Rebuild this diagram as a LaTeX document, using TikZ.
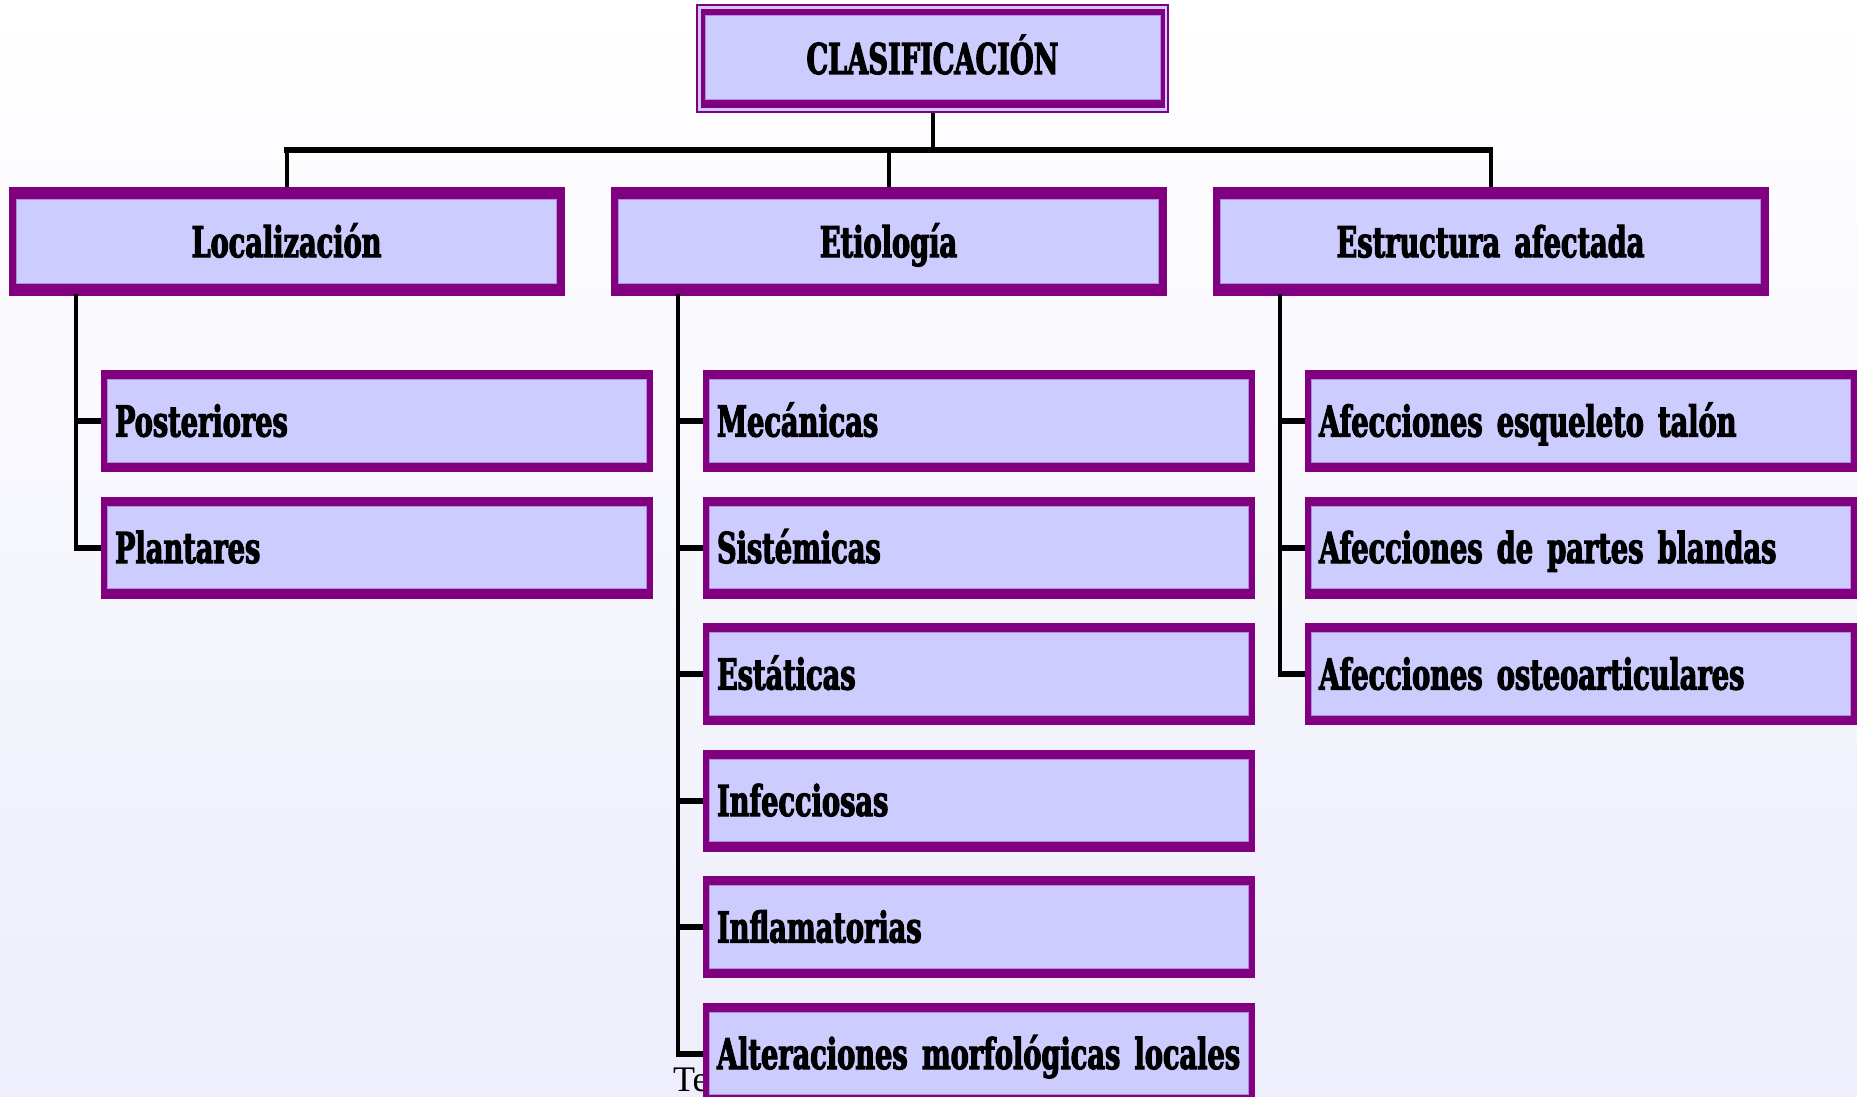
\documentclass[tikz,border=0pt]{standalone}
\usepackage{fontspec}
\setmainfont{DejaVu Serif}
\newfontfamily\boxfont{DejaVu Serif}[FakeStretch=0.64, FakeBold=2.5, WordSpace=1.5]
\newfontfamily\tefont{Liberation Serif}
\definecolor{bandpurple}{RGB}{128,0,128}
\definecolor{lav}{RGB}{204,204,255}
\definecolor{innerline}{RGB}{178,140,225}
\definecolor{bgbottom}{RGB}{238,238,252}
\tikzset{
  boxtext/.style={font=\boxfont\bfseries\fontsize{42.5pt}{44pt}\selectfont, text height=31pt, text depth=0pt, inner ysep=0pt},
  bandbox/.style n args={2}{boxtext, fill=bandpurple, draw=none,
    path picture={\fill[lav, draw=innerline, line width=1pt]
      ([xshift=#1,yshift=#2]path picture bounding box.south west) rectangle
      ([xshift=-#1,yshift=-#2]path picture bounding box.north east);}},
  lvlone/.style={bandbox={8pt}{12.5pt}, minimum width=556pt, minimum height=109pt, inner xsep=0pt},
  lvltwo/.style={bandbox={6.7pt}{9.6pt}, minimum height=102pt, text width=524pt, inner xsep=14pt, align=flush left},
  topbox/.style={boxtext, fill=bandpurple, draw=none, minimum width=473pt, minimum height=109pt,
    path picture={
      \fill[lav] ([xshift=2pt,yshift=2pt]path picture bounding box.south west) rectangle ([xshift=-2pt,yshift=-2pt]path picture bounding box.north east);
      \fill[bandpurple] ([xshift=4.5pt,yshift=5pt]path picture bounding box.south west) rectangle ([xshift=-4.5pt,yshift=-5.5pt]path picture bounding box.north east);
      \fill[lav, draw=innerline, line width=1pt] ([xshift=9pt,yshift=13pt]path picture bounding box.south west) rectangle ([xshift=-9pt,yshift=-12pt]path picture bounding box.north east);}},
  vl/.style={line width=4pt, black},
  hl/.style={line width=5.5pt, black},
  tick/.style={line width=6pt, black},
}
\begin{document}
\begin{tikzpicture}[x=1pt, y=-1pt]
\useasboundingbox (0,0) rectangle (1857,1097);
\clip (0,0) rectangle (1857,1097);
\shade[top color=white, bottom color=bgbottom] (0,0) rectangle (1857,1097);

\node[font=\tefont\fontsize{36pt}{38pt}\selectfont, anchor=base west, inner sep=0pt] (te) at (673,1091) {Te};

\node[topbox] (top) at (932.5,58.5) {CLASIFICACIÓN};

\node[lvlone] (loc) at (286.5,241.7) {Localización};
\node[lvlone] (etio) at (888.5,241.7) {Etiología};
\node[lvlone] (estr) at (1490.5,241.7) {Estructura afectada};

\node[lvltwo] (post) at (377,421) {Posteriores};
\node[lvltwo] (plan) at (377,547.5) {Plantares};

\node[lvltwo] (mec) at (979,421) {Mecánicas};
\node[lvltwo] (sis) at (979,547.5) {Sistémicas};
\node[lvltwo] (est) at (979,674) {Estáticas};
\node[lvltwo] (inf) at (979,800.5) {Infecciosas};
\node[lvltwo] (infl) at (979,927) {Inflamatorias};
\node[lvltwo] (alt) at (979,1053.5) {Alteraciones morfológicas locales};

\node[lvltwo] (esq) at (1581,421) {Afecciones esqueleto talón};
\node[lvltwo] (pb) at (1581,547.5) {Afecciones de partes blandas};
\node[lvltwo] (oa) at (1581,674) {Afecciones osteoarticulares};

% top bus
\coordinate (hb) at (932.5,150);
\draw[vl] (top.south) -- (hb);
\draw[hl, line cap=rect] (loc.north |- hb) -- (estr.north |- hb);
\draw[vl] (loc.north |- hb) -- (loc.north);
\draw[vl] (etio.north |- hb) -- (etio.north);
\draw[vl] (estr.north |- hb) -- (estr.north);

% branch buses
\coordinate (lb) at ([xshift=68pt]loc.south west);
\coordinate (mb) at ([xshift=68pt]etio.south west);
\coordinate (rb) at ([xshift=68pt]estr.south west);
\draw[vl, line cap=rect] (lb) -- (lb |- plan.west);
\draw[vl, line cap=rect] (mb) -- (mb |- alt.west);
\draw[vl, line cap=rect] (rb) -- (rb |- oa.west);
\foreach \n in {post,plan}{\draw[tick] ([xshift=-2pt]lb |- \n.west) -- (\n.west);}
\foreach \n in {mec,sis,est,inf,infl,alt}{\draw[tick] ([xshift=-2pt]mb |- \n.west) -- (\n.west);}
\foreach \n in {esq,pb,oa}{\draw[tick] ([xshift=-2pt]rb |- \n.west) -- (\n.west);}
\end{tikzpicture}
\end{document}
